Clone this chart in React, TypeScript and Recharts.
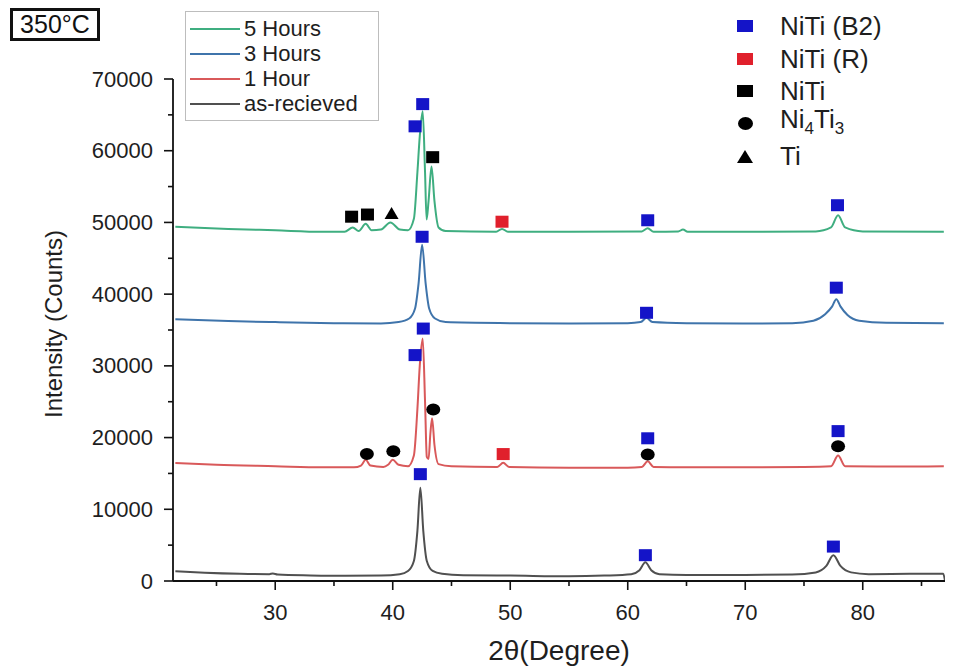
import React from 'react';
import { ComposedChart, Line, Scatter, XAxis, YAxis } from 'recharts';

const FONT = '"Liberation Sans", Arial, Helvetica, sans-serif';

// diffraction patterns, [2theta, counts]
const asReceived = [
  [21.5, 1350], [24, 1150], [27, 1000], [29.5, 950], [29.8, 1050], [30.2, 900], [33, 780], [36, 720],
  [39, 750], [40.6, 950], [41.3, 1400], [41.8, 2800], [42.1, 7000], [42.35, 13000], [42.6, 7000],
  [42.9, 2800], [43.4, 1400], [44.2, 1000], [46, 800], [50, 750], [55, 650], [58, 750], [60.3, 950],
  [61.0, 1500], [61.5, 2600], [62.0, 1500], [62.7, 950], [65, 850], [70, 850], [74, 900], [76.0, 1200],
  [76.9, 2100], [77.5, 3600], [78.1, 2100], [79.0, 1200], [80.5, 950], [84, 1000], [86.85, 1000], [87, 0],
].map(([x, y]) => ({ x, y }));

const oneHour = [
  [21.5, 16450], [25, 16200], [30, 16000], [34, 15850], [36.7, 15850], [37.3, 16100], [37.7, 16900],
  [38.1, 16100], [39.2, 15900], [39.6, 16200], [40.0, 16900], [40.5, 16200], [41.3, 16000], [41.8, 17500],
  [42.1, 24000], [42.3, 30000], [42.55, 33800], [42.75, 25000], [42.9, 17300], [43.05, 17000], [43.2, 20500],
  [43.35, 22700], [43.55, 19000], [43.9, 16300], [45, 16000], [48.9, 15900], [49.4, 16500], [49.9, 15900],
  [55, 15800], [60, 15800], [61.2, 15900], [61.7, 16700], [62.2, 15900], [65, 15850], [70, 15850],
  [75, 15900], [77.3, 16000], [77.9, 17500], [78.5, 16000], [82, 15950], [86.9, 16000],
].map(([x, y]) => ({ x, y }));

const threeHours = [
  [21.5, 36500], [26, 36250], [30, 36100], [35, 35950], [39, 35900], [40.5, 36100], [41.4, 36600],
  [41.9, 38000], [42.2, 41500], [42.5, 46900], [42.8, 41500], [43.1, 38000], [43.6, 36600], [44.5, 36100],
  [50, 35950], [55, 35900], [60, 35950], [61.1, 36100], [61.6, 36700], [62.1, 36100], [65, 35950],
  [70, 35900], [74, 35950], [75.8, 36300], [76.8, 37200], [77.4, 38300], [77.75, 39300], [78.1, 38300],
  [78.7, 37100], [79.7, 36300], [82, 36000], [86.9, 35950],
].map(([x, y]) => ({ x, y }));

const fiveHours = [
  [21.5, 49400], [26, 49100], [30, 48900], [34, 48700], [35.9, 48700], [36.6, 49300], [37.1, 48800],
  [37.7, 49800], [38.2, 48900], [39.0, 49000], [39.8, 50000], [40.6, 49000], [41.3, 48900], [41.8, 50500],
  [42.1, 57000], [42.3, 62000], [42.55, 65500], [42.75, 57000], [42.88, 50400], [43.05, 53000],
  [43.3, 57800], [43.55, 53000], [43.9, 49300], [44.5, 48800], [48.8, 48700], [49.3, 49100], [49.8, 48700],
  [55, 48700], [61.2, 48750], [61.7, 49200], [62.2, 48700], [64.3, 48750], [64.7, 49000], [65.1, 48700],
  [70, 48700], [76, 48750], [77.3, 49300], [77.9, 51000], [78.5, 49300], [80, 48750], [86.9, 48700],
].map(([x, y]) => ({ x, y }));

// phase markers
const niTiB2 = [
  [42.35, 14900], [61.5, 3600], [77.5, 4800],
  [41.9, 31500], [42.6, 35200], [61.7, 19900], [77.9, 20900],
  [42.5, 48000], [61.6, 37400], [77.75, 40900],
  [41.9, 63400], [42.55, 66500], [61.7, 50300], [77.85, 52400],
].map(([x, y]) => ({ x, y }));
const niTiR = [[49.4, 17700], [49.3, 50100]].map(([x, y]) => ({ x, y }));
const niTi = [[36.5, 50800], [37.85, 51100], [43.4, 59100]].map(([x, y]) => ({ x, y }));
const ni4Ti3 = [[37.8, 17700], [40.05, 18100], [43.45, 23900], [61.7, 17650], [77.9, 18800]].map(([x, y]) => ({ x, y }));
const ti = [[39.9, 51300]].map(([x, y]) => ({ x, y }));

const xTicks = [25, 30, 35, 40, 45, 50, 55, 60, 65, 70, 75, 80, 85];
const yTicks = [0, 5000, 10000, 15000, 20000, 25000, 30000, 35000, 40000, 45000, 50000, 55000, 60000, 65000, 70000];

const seriesLegend = [
  { name: '5 Hours', color: '#3fae80' },
  { name: '3 Hours', color: '#3f74ab' },
  { name: '1 Hour', color: '#d9595a' },
  { name: 'as-recieved', color: '#505050' },
];

function YTick({ x, y, payload }: any) {
  const major = payload.value % 10000 === 0;
  return (
    <g>
      <line x1={x - (major ? 9 : 5)} x2={x} y1={y} y2={y} stroke="#111" strokeWidth={1.6} />
      {major && (
        <text x={x - 20} y={y} textAnchor="end" dominantBaseline="central" fontSize={22} fontFamily={FONT} fill="#1e1e1e">
          {payload.value}
        </text>
      )}
    </g>
  );
}

function XTick({ x, y, payload }: any) {
  const major = payload.value % 10 === 0 && payload.value >= 30 && payload.value <= 80;
  return (
    <g>
      <line x1={x} x2={x} y1={y} y2={y + (major ? 9 : 5)} stroke="#111" strokeWidth={1.6} />
      {major && (
        <text x={x} y={y + 31} textAnchor="middle" dominantBaseline="central" fontSize={22} fontFamily={FONT} fill="#1e1e1e">
          {payload.value}
        </text>
      )}
    </g>
  );
}

const square = (fill: string) => (p: any) => <rect x={p.cx - 6.5} y={p.cy - 6} width={13} height={12} fill={fill} />;
const dot = (p: any) => <ellipse cx={p.cx} cy={p.cy} rx={7} ry={6} fill="#000" />;
const tri = (p: any) => <path d={`M${p.cx - 7},${p.cy + 6}L${p.cx + 7},${p.cy + 6}L${p.cx},${p.cy - 6}Z`} fill="#000" />;

function PhaseLegend() {
  const rows = [
    { label: <>NiTi (B2)</>, mark: <div style={{ width: 16, height: 12, background: '#1414c8' }} /> },
    { label: <>NiTi (R)</>, mark: <div style={{ width: 16, height: 12, background: '#e0202c' }} /> },
    { label: <>NiTi</>, mark: <div style={{ width: 16, height: 12, background: '#000' }} /> },
    {
      label: <>Ni<sub style={{ fontSize: 17, verticalAlign: -6 }}>4</sub>Ti<sub style={{ fontSize: 17, verticalAlign: -6 }}>3</sub></>,
      mark: <div style={{ width: 15, height: 13, borderRadius: '50%', background: '#000' }} />,
    },
    {
      label: <>Ti</>,
      mark: <div style={{ width: 0, height: 0, borderLeft: '8px solid transparent', borderRight: '8px solid transparent', borderBottom: '13px solid #000' }} />,
    },
  ];
  return (
    <div style={{ position: 'absolute', left: 730, top: 10 }}>
      {rows.map((r, i) => (
        <div key={i} style={{ display: 'flex', alignItems: 'center', height: 32.5 }}>
          <div style={{ width: 30, display: 'flex', justifyContent: 'center' }}>{r.mark}</div>
          <div style={{ marginLeft: 20, fontSize: 26, color: '#1e1e1e', lineHeight: '32px' }}>{r.label}</div>
        </div>
      ))}
    </div>
  );
}

export default function App() {
  return (
    <div style={{ position: 'absolute', left: 0, top: 0, width: 953, height: 668, background: '#fff', fontFamily: FONT }}>
      <ComposedChart width={953} height={668} margin={{ top: 79, right: 8, bottom: 27, left: 93 }}>
        <XAxis
          type="number"
          dataKey="x"
          domain={[21.3, 87]}
          ticks={xTicks}
          allowDataOverflow
          height={60}
          tickSize={0}
          tickMargin={0}
          tickLine={false}
          tick={<XTick />}
          axisLine={{ stroke: '#111', strokeWidth: 1.8 }}
        />
        <YAxis
          type="number"
          domain={[0, 70000]}
          ticks={yTicks}
          allowDataOverflow
          width={80}
          tickSize={0}
          tickMargin={0}
          tickLine={false}
          tick={<YTick />}
          axisLine={{ stroke: '#111', strokeWidth: 1.8 }}
        />
        <Line data={asReceived} dataKey="y" type="monotone" stroke="#505050" strokeWidth={2} dot={false} isAnimationActive={false} />
        <Line data={oneHour} dataKey="y" type="monotone" stroke="#d9595a" strokeWidth={2} dot={false} isAnimationActive={false} />
        <Line data={threeHours} dataKey="y" type="monotone" stroke="#3f74ab" strokeWidth={2} dot={false} isAnimationActive={false} />
        <Line data={fiveHours} dataKey="y" type="monotone" stroke="#3fae80" strokeWidth={2} dot={false} isAnimationActive={false} />
        <Scatter data={niTiB2} dataKey="y" shape={square('#1414c8')} isAnimationActive={false} />
        <Scatter data={niTiR} dataKey="y" shape={square('#e0202c')} isAnimationActive={false} />
        <Scatter data={niTi} dataKey="y" shape={square('#000')} isAnimationActive={false} />
        <Scatter data={ni4Ti3} dataKey="y" shape={dot} isAnimationActive={false} />
        <Scatter data={ti} dataKey="y" shape={tri} isAnimationActive={false} />
      </ComposedChart>

      <div
        style={{
          position: 'absolute', left: 54, top: 324, transform: 'translate(-50%, -50%) rotate(-90deg)',
          fontSize: 24, color: '#1e1e1e', whiteSpace: 'nowrap',
        }}
      >
        Intensity (Counts)
      </div>
      <div style={{ position: 'absolute', left: 559, top: 651, transform: 'translate(-50%, -50%)', fontSize: 28, color: '#1e1e1e', whiteSpace: 'nowrap' }}>
        2θ(Degree)
      </div>

      <div
        style={{
          position: 'absolute', left: 10, top: 8, width: 84, height: 27, border: '3px solid #111',
          fontSize: 25, lineHeight: '27px', textAlign: 'center', color: '#111',
        }}
      >
        350°C
      </div>

      <div style={{ position: 'absolute', left: 185, top: 11, width: 192, height: 108, border: '1px solid #bdbdbd', background: '#fff' }}>
        {seriesLegend.map((s) => (
          <div key={s.name} style={{ display: 'flex', alignItems: 'center', height: 25, marginTop: s.name === '5 Hours' ? 4 : 0 }}>
            <div style={{ width: 50, height: 2, background: s.color, marginLeft: 4 }} />
            <div style={{ marginLeft: 4, fontSize: 22, color: '#1e1e1e', lineHeight: '25px' }}>{s.name}</div>
          </div>
        ))}
      </div>

      <PhaseLegend />
    </div>
  );
}
